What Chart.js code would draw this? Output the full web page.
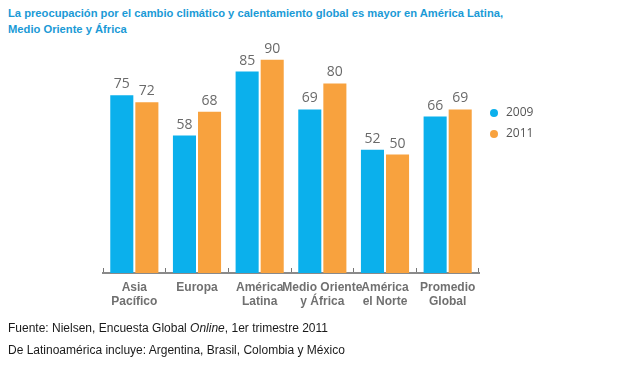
<!DOCTYPE html>
<html>
<head>
<meta charset="utf-8">
<script src="https://cdn.jsdelivr.net/npm/chart.js@4"></script>
<style>
  html, body { margin: 0; padding: 0; background: #fff; }
  body { width: 626px; height: 370px; position: relative; overflow: hidden; font-family: "Liberation Sans", Arial, sans-serif; }
  #title { position: absolute; left: 8px; top: 5px; font-weight: bold; font-size: 11.2px; line-height: 16px; color: #1a9ad6; }
  #chart { position: absolute; left: 0; top: 0; }
  #foot { position: absolute; left: 8px; top: 317px; font-size: 12px; line-height: 22px; color: #1a1a1a; }
</style>
</head>
<body>
<div id="title">La preocupación por el cambio climático y calentamiento global es mayor en América Latina,<br>Medio Oriente y África</div>
<canvas id="chart" width="626" height="320"></canvas>
<div id="foot">Fuente: Nielsen, Encuesta Global <i>Online</i>, 1er trimestre 2011<br>De Latinoamérica incluye: Argentina, Brasil, Colombia y México</div>
<script>
const categories = [['Asia', 'Pacífico'], ['Europa'], ['América', 'Latina'], ['Medio Oriente', 'y África'], ['América', 'el Norte'], ['Promedio', 'Global']];
const series2009 = [75, 58, 85, 69, 52, 66];
const series2011 = [72, 68, 90, 80, 50, 69];
const seriesNames = ['2009', '2011'];
const colors = ['#0bb0ec', '#f8a23e'];

// values above the bars
const valueLabels = {
  id: 'valueLabels',
  afterDatasetsDraw(chart) {
    const ctx = chart.ctx;
    ctx.save();
    ctx.font = '14px "Open Sans", sans-serif';
    ctx.fillStyle = '#6a6a6a';
    ctx.textAlign = 'center';
    ctx.textBaseline = 'alphabetic';
    chart.data.datasets.forEach((ds, i) => {
      chart.getDatasetMeta(i).data.forEach((bar, j) => {
        ctx.fillText(ds.data[j], bar.x, bar.y - 7);
      });
    });
    ctx.restore();
  }
};

// legend on the right, dots + year
const sideLegend = {
  id: 'sideLegend',
  afterDraw(chart) {
    const ctx = chart.ctx;
    const x = chart.chartArea.right + 15;
    ctx.save();
    ctx.font = '12px "Open Sans", sans-serif';
    ctx.textBaseline = 'middle';
    chart.data.datasets.forEach((ds, i) => {
      const y = 113 + i * 21;
      ctx.fillStyle = ds.backgroundColor;
      ctx.beginPath();
      ctx.arc(x, y, 4, 0, Math.PI * 2);
      ctx.fill();
      ctx.fillStyle = '#555';
      ctx.fillText(ds.label, x + 12, y);
    });
    ctx.restore();
  }
};

new Chart(document.getElementById('chart'), {
  type: 'bar',
  data: {
    labels: categories,
    datasets: [
      { label: seriesNames[0], data: series2009, backgroundColor: colors[0] },
      { label: seriesNames[1], data: series2011, backgroundColor: colors[1] }
    ]
  },
  options: {
    responsive: false,
    animation: false,
    devicePixelRatio: 1,
    categoryPercentage: 0.8,
    barPercentage: 0.92,
    layout: { padding: { left: 103, right: 147, top: 36, bottom: 7 } },
    plugins: { legend: { display: false }, tooltip: { enabled: false } },
    scales: {
      x: {
        afterFit: s => { s.height = 40; },
        grid: { offset: true, drawOnChartArea: false, drawTicks: true, tickLength: -5, color: '#777', lineWidth: 1 },
        border: { display: true, color: '#8a8a8a', width: 2 },
        ticks: {
          autoSkip: false, maxRotation: 0, padding: 13,
          color: '#707070',
          font: { family: '"Liberation Sans", Arial, sans-serif', size: 12, weight: 'bold', lineHeight: 1.17 }
        }
      },
      y: { display: false, min: 0, max: 100 }
    }
  },
  plugins: [valueLabels, sideLegend]
});
</script>
</body>
</html>
